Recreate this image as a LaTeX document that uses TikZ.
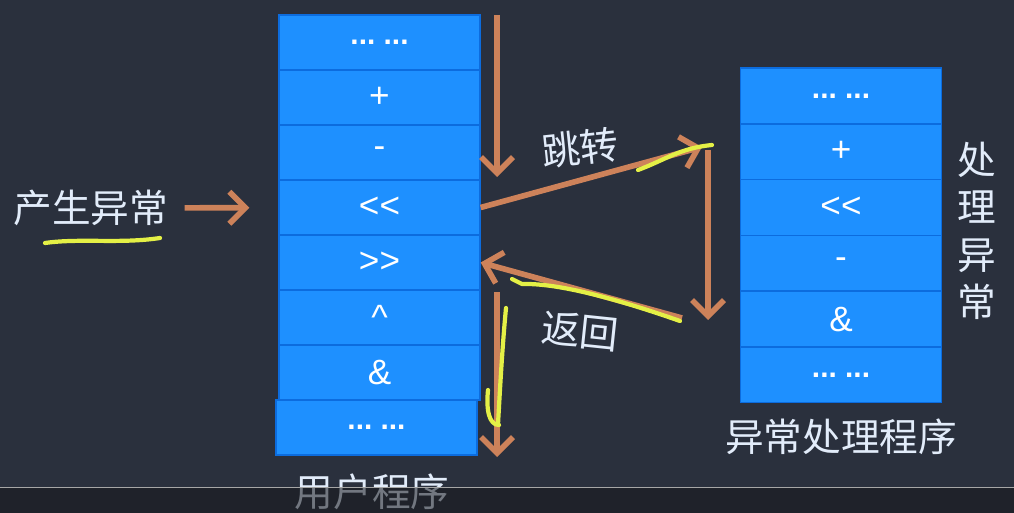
\documentclass[tikz,border=0pt]{standalone}
\usepackage{fontspec}
\setmainfont{Liberation Sans}
\newfontfamily\cjk{Noto Sans CJK SC}
\usetikzlibrary{arrows.meta}
\definecolor{fundo}{RGB}{42,48,61}
\definecolor{caixa}{RGB}{30,144,255}
\definecolor{linhacx}{RGB}{12,108,222}
\definecolor{laranja}{RGB}{205,130,90}
\definecolor{marca}{RGB}{228,240,70}
\definecolor{rotulo}{RGB}{226,236,250}
\definecolor{barra}{RGB}{22,24,28}
\tikzset{
  celula/.style={fill=caixa, draw=linhacx, line width=0.8pt, minimum width=4.02cm,
    minimum height=1.1cm, inner sep=0pt, text=white, font=\fontsize{20}{20}\selectfont},
  seta/.style={draw=laranja, line width=3.2pt, -{Straight Barb[length=3.2mm,width=6.4mm]}},
  titulo/.style={text=rotulo, font=\cjk\fontsize{22}{27}\selectfont},
  grifo/.style={draw=marca, line width=2.4pt, line cap=round, line join=round},
}
\newcommand{\pontos}{{\fontsize{17}{17}\selectfont\bfseries ...\ ...}}
\begin{document}
\begin{tikzpicture}[x=0.02cm, y=-0.02cm]
\fill[fundo] (0,0) rectangle (1014,513);
\useasboundingbox (0,0) rectangle (1014,513);
% Programa do usuario: 7 celulas + a ultima um pouco deslocada
\foreach \s [count=\i] in {\pontos,+,-,<{}<,>{}>,\textasciicircum,\&} {
  \node[celula] (u\i) at (379.5,{-12.5+55*\i}) {\s};
}
\node[celula] (u8) at (376.5,427.5) {\pontos};
% Programa de tratamento: 6 celulas
\foreach \s [count=\i] in {\pontos,+,<{}<,-,\&,\pontos} {
  \node[celula, minimum height=1.116cm] (h\i) at (841,{40.1+55.8*\i}) {\s};
}
% Rotulos
\node[titulo] (causa) at (91,208) {产生异常};
\node[titulo] (uprog) at (372,492) {用户程序};
\node[titulo] (hprog) at (841,437) {异常处理程序};
\node[titulo, align=center] (trata) at (977,231) {处\\理\\异\\常};
\node[titulo, rotate=6] (salto) at (580,148) {跳转};
\node[titulo, rotate=-6] (volta) at (580,331) {返回};
% Pontas livres das setas
\coordinate (d1) at (497,15);
\coordinate (d2) at (497,177);
\coordinate (d3) at (497,292);
\coordinate (d4) at (497,457);
\coordinate (s1) at (702,147);
\coordinate (r1) at (708,150);
\coordinate (r2) at (708,320);
\coordinate (v1) at (682,318);
% Setas
\draw[seta, shorten <=0.2cm, shorten >=0.58cm] (causa) -- (u4);
\draw[seta] (d1) -- (d2);
\draw[seta] (u4.east) -- (s1);
\draw[seta] (r1) -- (r2);
\draw[seta] (v1) -- (u5.east);
\draw[seta] (d3) -- (d4);
% Marcas amarelas feitas a mao
\draw[grifo] (45,243) .. controls (80,238) and (120,244) .. (160,238);
\draw[grifo] (638,170) .. controls (665,160) and (680,148) .. (712,145);
\draw[grifo] (512,279) -- (522,284) .. controls (560,283) and (620,300) .. (680,321);
\draw[grifo] (506,308) .. controls (502,350) and (500,390) .. (498,424);
\draw[grifo] (488,390) .. controls (486,410) and (489,425) .. (499,425);
% Barra inferior do video
\fill[barra, opacity=0.55] (0,488) rectangle (1014,513);
\draw[gray!70, line width=1pt] (0,487.5) -- (1014,487.5);
\end{tikzpicture}
\end{document}
